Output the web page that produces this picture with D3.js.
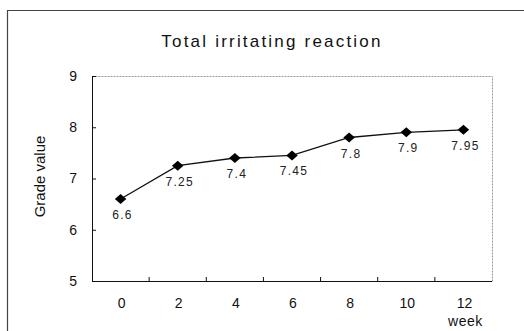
<!DOCTYPE html>
<html>
<head>
<meta charset="utf-8">
<script src="https://cdn.jsdelivr.net/npm/d3@7"></script>
<style>
  body { margin: 0; background: #fff; }
  svg { display: block; font-family: "Liberation Sans", Arial, sans-serif; }
  .frame { fill: none; stroke: #444; stroke-width: 1.2; }
  .plot { fill: none; stroke: #999; stroke-width: 1; stroke-dasharray: 2 1; }
  .axis path, .axis line { stroke: #111; }
  .axis text { fill: #111; font-size: 14px; }
  .line { fill: none; stroke: #111; stroke-width: 1.3; }
  .lbl { font-size: 12px; fill: #222; text-anchor: middle; letter-spacing: 1.3px; }
</style>
</head>
<body>
<div id="chart"></div>
<script>
// data
var weeks = ["0", "2", "4", "6", "8", "10", "12"];
var grades = [6.6, 7.25, 7.4, 7.45, 7.8, 7.9, 7.95];
var valueLabels = ["6.6", "7.25", "7.4", "7.45", "7.8", "7.9", "7.95"];
var yTicks = [5, 6, 7, 8, 9];

window.onload = function(){
  makeChart()
};

function makeChart(){
  var outerWidth = 524,
      outerHeight = 331,
      margin = {top: 76, right: 32, bottom: 50, left: 92},
      width = outerWidth - margin.left - margin.right,
      height = outerHeight - margin.top - margin.bottom;

  var svg = d3.select("#chart").append("svg")
      .attr("width", outerWidth)
      .attr("height", outerHeight);

  // outer box of the figure
  svg.append("path")
      .attr("class", "frame")
      .attr("d", "M7.5," + outerHeight + " V10.5 H" + outerWidth);

  svg.append("text")
      .attr("x", 272)
      .attr("y", 47)
      .attr("text-anchor", "middle")
      .style("font-size", "17px")
      .style("letter-spacing", "2.2px")
      .style("fill", "#111")
      .text("Total irritating reaction");

  var g = svg.append("g")
      .attr("transform", "translate(" + margin.left + "," + margin.top + ")");

  var x = d3.scalePoint()
      .domain(weeks)
      .range([0, width])
      .padding(0.5);

  var y = d3.scaleLinear()
      .domain([5, 9])
      .range([height, 0]);

  g.append("rect")
      .attr("class", "plot")
      .attr("x", 0.5)
      .attr("y", 0.5)
      .attr("width", width)
      .attr("height", height);

  // x axis: ticks between categories, pointing up
  var step = x.step();
  var xAxis = g.append("g")
      .attr("class", "x axis")
      .attr("transform", "translate(0," + height + ")");
  xAxis.append("line")
      .attr("x1", 0).attr("x2", width)
      .attr("y1", 0.5).attr("y2", 0.5);
  xAxis.selectAll(".tick")
      .data(weeks.slice(1))
    .enter().append("line")
      .attr("class", "tick")
      .attr("x1", function(d){ return x(d) - step / 2; })
      .attr("x2", function(d){ return x(d) - step / 2; })
      .attr("y1", 0).attr("y2", -4);
  xAxis.selectAll("text")
      .data(weeks)
    .enter().append("text")
      .attr("x", function(d){ return x(d) + 1; })
      .attr("y", 27)
      .attr("text-anchor", "middle")
      .text(function(d){ return d; });

  var yAxis = d3.axisLeft(y)
      .tickValues(yTicks)
      .tickSize(-4)
      .tickPadding(15)
      .tickFormat(d3.format("d"));

  g.append("g")
      .attr("class", "y axis")
      .call(yAxis)
      .call(function(s){ s.select(".domain").attr("d", "M0.5,0V" + height); });

  g.append("text")
      .attr("transform", "translate(-47," + (height / 2 - 2) + ") rotate(-90)")
      .attr("text-anchor", "middle")
      .style("font-size", "15px")
      .style("fill", "#111")
      .text("Grade value");

  g.append("text")
      .attr("x", x("12") + 2)
      .attr("y", height + 45)
      .attr("text-anchor", "middle")
      .style("font-size", "14px")
      .style("letter-spacing", "0.5px")
      .style("fill", "#111")
      .text("week");

  var line = d3.line()
      .x(function(d, i){ return x(weeks[i]); })
      .y(function(d){ return y(d); });

  g.append("path")
      .datum(grades)
      .attr("class", "line")
      .attr("d", line);

  g.selectAll(".pt")
      .data(grades)
    .enter().append("path")
      .attr("class", "pt")
      .attr("d", d3.symbol().type(d3.symbolSquare).size(50))
      .attr("transform", function(d, i){
        return "translate(" + x(weeks[i]) + "," + y(d) + ") scale(1.15,1) rotate(45)";
      })
      .style("fill", "#000");

  g.selectAll(".lbl")
      .data(grades)
    .enter().append("text")
      .attr("class", "lbl")
      .attr("x", function(d, i){ return x(weeks[i]) + 2; })
      .attr("y", function(d){ return y(d) + 20; })
      .text(function(d, i){ return valueLabels[i]; });
};
</script>
</body>
</html>
